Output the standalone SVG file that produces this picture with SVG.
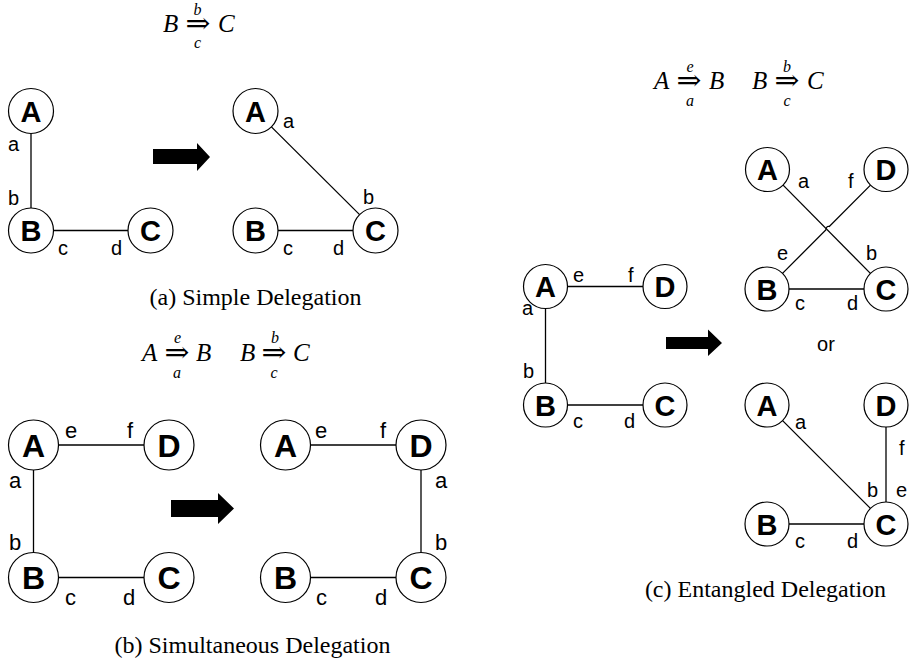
<svg xmlns="http://www.w3.org/2000/svg" width="909" height="666" viewBox="0 0 909 666">
<style>
.n circle{fill:#fff;stroke:#000;stroke-width:1.2}
.n text{font-family:"Liberation Sans",Arial,sans-serif;font-weight:bold;text-anchor:middle}
.s text{font-size:29px}
.l text{font-size:32px}
.e{stroke:#000;stroke-width:1.3;fill:none}
.lab{font-family:"Liberation Sans",Arial,sans-serif;font-size:20px}
.labb{font-family:"Liberation Sans",Arial,sans-serif;font-size:22px}
.m{font-family:"Liberation Serif","Times New Roman",serif;font-style:italic;font-size:25px}
.ms{font-family:"Liberation Serif","Times New Roman",serif;font-style:italic;font-size:16px;text-anchor:middle}
.ar{font-family:"DejaVu Serif","Liberation Serif",serif;font-size:22px;text-anchor:middle}
.cap{font-family:"Liberation Serif","Times New Roman",serif;font-size:24px;text-anchor:middle}
.big{fill:#000}
</style>
<rect width="909" height="666" fill="#fff"/>

<!-- formulas -->
<g id="formula-a">
<text class="m" x="163" y="32">B</text><text class="ar" transform="translate(198,33) scale(1.35,1.3)">⇒</text><text class="m" x="218" y="32">C</text>
<text class="ms" x="197.5" y="15">b</text><text class="ms" x="197.5" y="48">c</text>
</g>
<g id="formula-b">
<text class="m" x="142" y="361">A</text><text class="ar" transform="translate(177,362) scale(1.35,1.3)">⇒</text><text class="m" x="196" y="361">B</text>
<text class="ms" x="177.5" y="343">e</text><text class="ms" x="177" y="378">a</text>
<text class="m" x="240" y="361">B</text><text class="ar" transform="translate(274,362) scale(1.35,1.3)">⇒</text><text class="m" x="293" y="361">C</text>
<text class="ms" x="275" y="343">b</text><text class="ms" x="274" y="378">c</text>
</g>
<g id="formula-c">
<text class="m" x="654" y="89">A</text><text class="ar" transform="translate(689,90) scale(1.35,1.3)">⇒</text><text class="m" x="709" y="89">B</text>
<text class="ms" x="690" y="72">e</text><text class="ms" x="690" y="106">a</text>
<text class="m" x="752" y="89">B</text><text class="ar" transform="translate(787,90) scale(1.35,1.3)">⇒</text><text class="m" x="807" y="89">C</text>
<text class="ms" x="787" y="72">b</text><text class="ms" x="787" y="106">c</text>
</g>

<!-- connectors -->
<g id="connectors">
<!-- (a) left -->
<line class="e" x1="31" y1="133.5" x2="31" y2="208"/>
<line class="e" x1="53.5" y1="230.5" x2="128" y2="230.5"/>
<!-- (a) right -->
<line class="e" x1="271.4" y1="126.9" x2="359.6" y2="214.6"/>
<line class="e" x1="278" y1="230.5" x2="353" y2="230.5"/>
<!-- (b) left -->
<line class="e" x1="58.5" y1="445" x2="144" y2="445"/>
<line class="e" x1="33.5" y1="470" x2="33.5" y2="552.5"/>
<line class="e" x1="58.5" y1="577.5" x2="144" y2="577.5"/>
<!-- (b) right -->
<line class="e" x1="310.5" y1="445" x2="396" y2="445"/>
<line class="e" x1="421" y1="470" x2="421" y2="552.5"/>
<line class="e" x1="310.5" y1="577.5" x2="396" y2="577.5"/>
<!-- (c) left -->
<line class="e" x1="567.5" y1="286.5" x2="643" y2="286.5"/>
<line class="e" x1="545.5" y1="308.5" x2="545.5" y2="383"/>
<line class="e" x1="567.5" y1="405" x2="643" y2="405"/>
<!-- (c) top right -->
<line class="e" x1="783.1" y1="185.1" x2="870.4" y2="273.4"/>
<path class="e" d="M870.5,185.1 L829.3,226.5 Q826.5,225.5 825.8,230 L782.5,273.4"/>
<line class="e" x1="789" y1="289" x2="864" y2="289"/>
<!-- (c) bottom right -->
<line class="e" x1="782.6" y1="420.6" x2="870.4" y2="508.4"/>
<line class="e" x1="886" y1="427" x2="886" y2="502"/>
<line class="e" x1="789" y1="524" x2="864" y2="524"/>
</g>

<!-- big arrows -->
<g id="arrow-a"><polygon class="big" points="153,149 197,149 197,143 210,157 197,171 197,164 153,164"/></g>
<g id="arrow-b"><polygon class="big" points="171,500 218,500 218,493 234,508.5 218,524 218,517 171,517"/></g>
<g id="arrow-c"><polygon class="big" points="666,337 708,337 708,329.5 722,343 708,356 708,349 666,349"/></g>

<!-- nodes (a) -->
<g id="a1-A" class="n s"><circle cx="31" cy="111" r="22.5"/><text x="31" y="121.5">A</text></g>
<g id="a1-B" class="n s"><circle cx="31" cy="230.5" r="22.5"/><text x="31" y="241">B</text></g>
<g id="a1-C" class="n s"><circle cx="150.5" cy="230.5" r="22.5"/><text x="150.5" y="241">C</text></g>
<g id="a2-A" class="n s"><circle cx="255.5" cy="111" r="22.5"/><text x="255.5" y="121.5">A</text></g>
<g id="a2-B" class="n s"><circle cx="255.5" cy="230.5" r="22.5"/><text x="255.5" y="241">B</text></g>
<g id="a2-C" class="n s"><circle cx="375.5" cy="230.5" r="22.5"/><text x="375.5" y="241">C</text></g>

<!-- nodes (b) -->
<g id="b1-A" class="n l"><circle cx="33.5" cy="445" r="25"/><text x="33.5" y="456.5">A</text></g>
<g id="b1-D" class="n l"><circle cx="169" cy="445" r="25"/><text x="169" y="456.5">D</text></g>
<g id="b1-B" class="n l"><circle cx="33.5" cy="577.5" r="25"/><text x="33.5" y="589">B</text></g>
<g id="b1-C" class="n l"><circle cx="169" cy="577.5" r="25"/><text x="169" y="589">C</text></g>
<g id="b2-A" class="n l"><circle cx="285.5" cy="445" r="25"/><text x="285.5" y="456.5">A</text></g>
<g id="b2-D" class="n l"><circle cx="421" cy="445" r="25"/><text x="421" y="456.5">D</text></g>
<g id="b2-B" class="n l"><circle cx="285.5" cy="577.5" r="25"/><text x="285.5" y="589">B</text></g>
<g id="b2-C" class="n l"><circle cx="421" cy="577.5" r="25"/><text x="421" y="589">C</text></g>

<!-- nodes (c) -->
<g id="c1-A" class="n s"><circle cx="545.5" cy="286.5" r="22"/><text x="545.5" y="297">A</text></g>
<g id="c1-D" class="n s"><circle cx="665" cy="286.5" r="22"/><text x="665" y="297">D</text></g>
<g id="c1-B" class="n s"><circle cx="545.5" cy="405" r="22"/><text x="545.5" y="415.5">B</text></g>
<g id="c1-C" class="n s"><circle cx="665" cy="405" r="22"/><text x="665" y="415.5">C</text></g>
<g id="c2-A" class="n s"><circle cx="767.5" cy="169.5" r="22"/><text x="767.5" y="180">A</text></g>
<g id="c2-D" class="n s"><circle cx="886" cy="169.5" r="22"/><text x="886" y="180">D</text></g>
<g id="c2-B" class="n s"><circle cx="767" cy="289" r="22"/><text x="767" y="299.5">B</text></g>
<g id="c2-C" class="n s"><circle cx="886" cy="289" r="22"/><text x="886" y="299.5">C</text></g>
<g id="c3-A" class="n s"><circle cx="767" cy="405" r="22"/><text x="767" y="415.5">A</text></g>
<g id="c3-D" class="n s"><circle cx="886" cy="405" r="22"/><text x="886" y="415.5">D</text></g>
<g id="c3-B" class="n s"><circle cx="767" cy="524" r="22"/><text x="767" y="534.5">B</text></g>
<g id="c3-C" class="n s"><circle cx="886" cy="524" r="22"/><text x="886" y="534.5">C</text></g>

<!-- edge labels -->
<g id="labels">
<text class="lab" x="8" y="151">a</text>
<text class="lab" x="8" y="205">b</text>
<text class="lab" x="58" y="255">c</text>
<text class="lab" x="111" y="255">d</text>
<text class="lab" x="283" y="128">a</text>
<text class="lab" x="363" y="204">b</text>
<text class="lab" x="283" y="255">c</text>
<text class="lab" x="333" y="255">d</text>

<text class="labb" x="65" y="438">e</text>
<text class="labb" x="127" y="438">f</text>
<text class="labb" x="9" y="488">a</text>
<text class="labb" x="9" y="550">b</text>
<text class="labb" x="65" y="605">c</text>
<text class="labb" x="123" y="605">d</text>
<text class="labb" x="315" y="438">e</text>
<text class="labb" x="380" y="438">f</text>
<text class="labb" x="435" y="488">a</text>
<text class="labb" x="435" y="550">b</text>
<text class="labb" x="316" y="605">c</text>
<text class="labb" x="375" y="605">d</text>

<text class="lab" x="573" y="282">e</text>
<text class="lab" x="628" y="282">f</text>
<text class="lab" x="522" y="315">a</text>
<text class="lab" x="523" y="378">b</text>
<text class="lab" x="573" y="428">c</text>
<text class="lab" x="624" y="428">d</text>

<text class="lab" x="798" y="188">a</text>
<text class="lab" x="848" y="188">f</text>
<text class="lab" x="777" y="260">e</text>
<text class="lab" x="866" y="260">b</text>
<text class="lab" x="795" y="310">c</text>
<text class="lab" x="847" y="310">d</text>

<text class="lab" x="795" y="429">a</text>
<text class="lab" x="899" y="455">f</text>
<text class="lab" x="867" y="497">b</text>
<text class="lab" x="896" y="497">e</text>
<text class="lab" x="795" y="548">c</text>
<text class="lab" x="847" y="548">d</text>

<text class="lab" x="826" y="351" text-anchor="middle">or</text>
</g>

<!-- captions -->
<text class="cap" x="255.5" y="305">(a) Simple Delegation</text>
<text class="cap" x="252.5" y="653">(b) Simultaneous Delegation</text>
<text class="cap" x="765.5" y="597">(c) Entangled Delegation</text>
</svg>
